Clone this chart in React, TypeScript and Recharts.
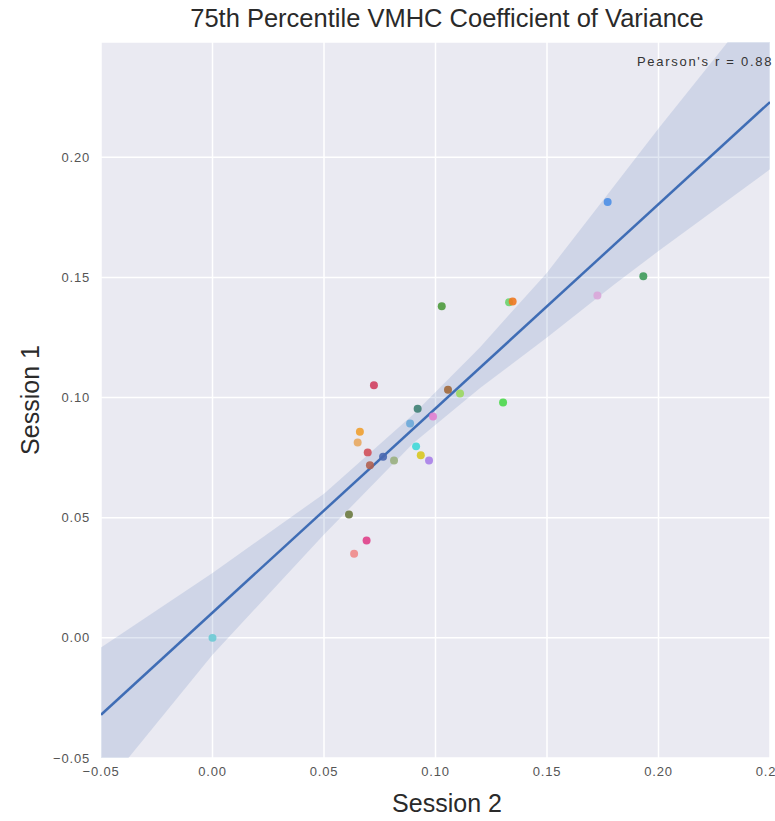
import React from 'react';
import { ComposedChart, Scatter, Line, Area, XAxis, YAxis, ZAxis, CartesianGrid, Cell } from 'recharts';

// Session 2 (x) and Session 1 (y) values per subject
const session2 = [0.0, 0.1772, 0.1932, 0.1726, 0.133, 0.1346, 0.1028, 0.0724, 0.1056, 0.111, 0.1303, 0.092, 0.0989, 0.0886, 0.0661, 0.0651, 0.0696, 0.0765, 0.0913, 0.0934, 0.0971, 0.0814, 0.0706, 0.0612, 0.0691, 0.0635];
const session1 = [0.0, 0.1814, 0.1505, 0.1425, 0.1397, 0.1400, 0.138, 0.1051, 0.1033, 0.1017, 0.098, 0.0954, 0.0921, 0.0892, 0.0858, 0.0813, 0.0772, 0.0754, 0.0797, 0.076, 0.0738, 0.0738, 0.0718, 0.0513, 0.0405, 0.035];
const pointColors = ['#6CCAD4', '#4D8FE6', '#3D9A5A', '#D9A6D9', '#6DD36D', '#F07820', '#4C9A3C', '#D04060', '#A0683A', '#9AD860', '#4BD84B', '#3E7F73', '#E080D0', '#6AA8D8', '#F0A030', '#E8A860', '#D0505A', '#4A68B0', '#40D8D8', '#D8C820', '#A880E8', '#9AB080', '#B06050', '#6B7A40', '#E0408A', '#F08A8A'];

// Regression line end points
const fitX = [-0.05, 0.25];
const fitY = [-0.032, 0.223];

// Confidence band
const bandX = [-0.05, 0.0, 0.05, 0.09, 0.12, 0.15, 0.18, 0.2, 0.25];
const bandLo = [-0.064, -0.007, 0.043, 0.081, 0.104, 0.125, 0.147, 0.161, 0.195];
const bandHi = [-0.004, 0.027, 0.060, 0.093, 0.121, 0.152, 0.188, 0.212, 0.27];

const xTicks = [-0.05, 0.0, 0.05, 0.1, 0.15, 0.2, 0.25];
const yTicks = [-0.05, 0.0, 0.05, 0.1, 0.15, 0.2];

const points = session2.map((x, i) => ({ x, y: session1[i] }));
const fitData = fitX.map((x, i) => ({ x, fit: fitY[i] }));
const bandData = bandX.map((x, i) => ({ x, band: [bandLo[i], bandHi[i]] }));

const fmt = (v: number) => (v < 0 ? '\u2212' + Math.abs(v).toFixed(2) : v.toFixed(2));

const FONT = '"Liberation Sans", Arial, sans-serif';
const tickStyle = { fontSize: 13, fill: '#555', fontFamily: FONT, letterSpacing: 0.8 };

export default function App() {
  return (
    <div style={{ position: 'absolute', left: 0, top: 0, width: 775, height: 821, overflow: 'hidden', background: '#fff', fontFamily: FONT }}>
      <ComposedChart width={775} height={821} data={bandData} margin={{ top: 42, right: 5, bottom: 0, left: 0 }}>
        <CartesianGrid fill="#EAEAF2" stroke="#ffffff" strokeWidth={1.5} />
        <XAxis type="number" dataKey="x" domain={[-0.05, 0.25]} ticks={xTicks} allowDataOverflow
          axisLine={false} tickLine={false} tickFormatter={fmt} height={63} tick={tickStyle} tickMargin={3} interval={0} />
        <YAxis type="number" domain={[-0.05, 0.248]} ticks={yTicks} allowDataOverflow
          axisLine={false} tickLine={false} tickFormatter={fmt} width={101} tick={tickStyle} tickMargin={5} interval={0} />
        <ZAxis range={[50, 50]} />
        <Area dataKey="band" type="linear" fill="#4C72B0" fillOpacity={0.17} stroke="none" isAnimationActive={false} />
        <Scatter data={points} dataKey="y" isAnimationActive={false}>
          {points.map((_, i) => (
            <Cell key={i} fill={pointColors[i]} fillOpacity={0.9} />
          ))}
        </Scatter>
        <Line data={fitData} dataKey="fit" type="linear" stroke="#3F6DB5" strokeWidth={2.5} dot={false} isAnimationActive={false} />
      </ComposedChart>
      <div style={{ position: 'absolute', left: 147, top: 3, width: 600, height: 30, lineHeight: '30px', textAlign: 'center', fontSize: 25.5, color: '#2a2a2a' }}>
        75th Percentile VMHC Coefficient of Variance
      </div>
      <div style={{ position: 'absolute', left: 637, top: 54, whiteSpace: 'nowrap', fontSize: 13, letterSpacing: 1.7, color: '#333', lineHeight: '16px' }}>
        Pearson's r = 0.88
      </div>
      <div style={{ position: 'absolute', left: 247, top: 788, width: 400, height: 30, lineHeight: '30px', textAlign: 'center', fontSize: 25, color: '#2a2a2a' }}>
        Session 2
      </div>
      <div style={{ position: 'absolute', left: -70, top: 385, width: 200, height: 30, lineHeight: '30px', textAlign: 'center', fontSize: 25, color: '#2a2a2a', transform: 'rotate(-90deg)' }}>
        Session 1
      </div>
    </div>
  );
}
